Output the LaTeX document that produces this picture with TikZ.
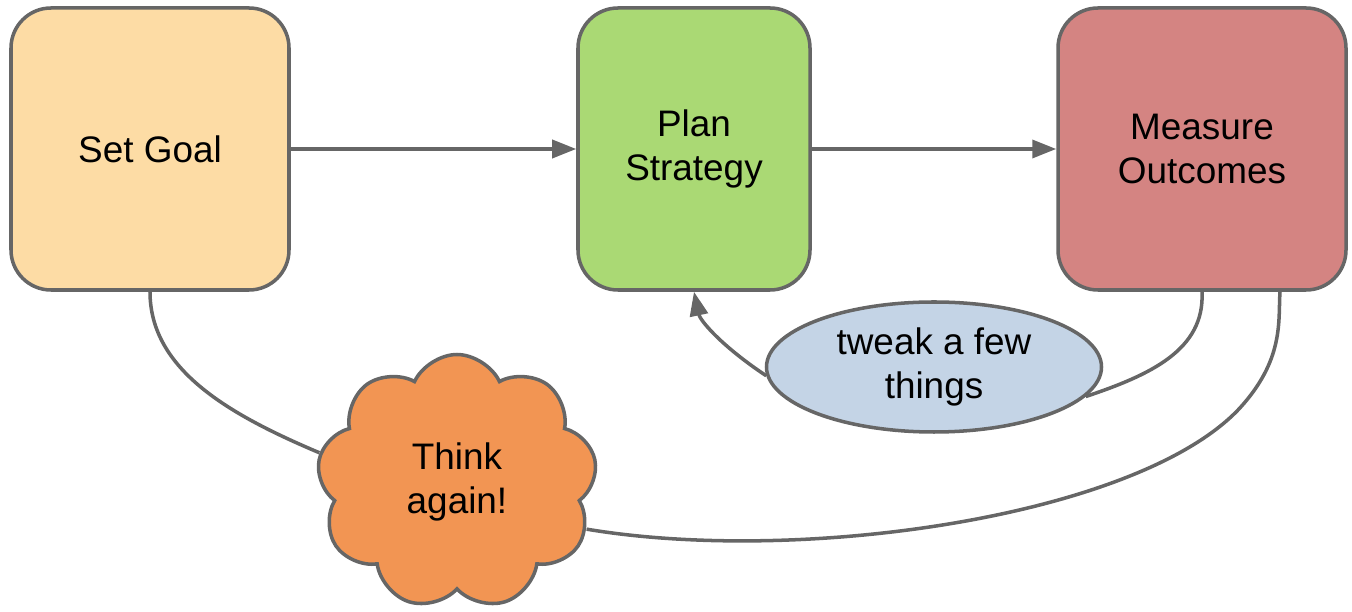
\documentclass[tikz,border=0pt]{standalone}
\usepackage{fontspec}
\setmainfont{Liberation Sans}
\usepackage{xcolor}
\usepackage{tikz}
\usetikzlibrary{arrows.meta,positioning,calc,shapes.geometric,shapes.symbols}

\definecolor{linegray}{HTML}{666666}
\definecolor{goalfill}{HTML}{FDDCA5}
\definecolor{planfill}{HTML}{AAD974}
\definecolor{measurefill}{HTML}{D48482}
\definecolor{tweakfill}{HTML}{C4D4E6}
\definecolor{thinkfill}{HTML}{F29553}

\begin{document}
\begin{tikzpicture}[
    font=\fontsize{21}{25}\selectfont,
    stepbox/.style={draw=linegray, line width=2pt, rounded corners=0.8cm,
        minimum height=5.64cm, align=center},
    loopline/.style={draw=linegray, line width=2pt},
    flow/.style={loopline, -{Triangle[length=0.48cm, width=0.36cm]}}
]
\useasboundingbox (0,0) rectangle (27.04,12.24);

% 三个步骤
\node[stepbox, minimum width=5.56cm, fill=goalfill] (goal) at (3.00, 9.26) {Set Goal};
\node[stepbox, minimum width=4.64cm, fill=planfill] (plan) at (13.88, 9.26) {Plan\\Strategy};
\node[stepbox, minimum width=5.76cm, fill=measurefill] (measure) at (24.04, 9.26) {Measure\\Outcomes};

% 小调整 - 椭圆
\node[ellipse, draw=linegray, line width=2pt, fill=tweakfill, inner sep=0pt,
    minimum width=6.7cm, minimum height=2.6cm, align=center] (tweak) at (18.68, 4.90) {tweak a few\\things};

% 重新思考 - 云
\node[cloud, cloud puffs=9, cloud puff arc=130, draw=linegray, line width=2pt, fill=thinkfill,
    inner sep=0pt, minimum width=5.6cm, minimum height=5.1cm, align=center] (think) at (9.14, 2.60) {Think\\again!};

% 主流程
\draw[flow] (goal) -- (plan);
\draw[flow] (plan) -- (measure);

% 小循环
\draw[loopline] (measure.south) .. controls (24.10, 5.24) and (23.00, 4.74) .. (tweak.-11);
\draw[flow] (tweak.183) .. controls (14.40, 5.34) and (14.00, 5.84) .. (plan.south);

% 大循环
\draw[loopline] (goal.south) .. controls (3.00, 4.84) and (4.60, 3.94) .. (think.168);
\draw[loopline] (think.-20) .. controls (16.00, 0.94) and (22.70, 1.90) .. (24.76, 4.04)
    .. controls (25.70, 5.04) and (25.56, 5.84) .. ([xshift=1.56cm]measure.south);
\end{tikzpicture}
\end{document}
